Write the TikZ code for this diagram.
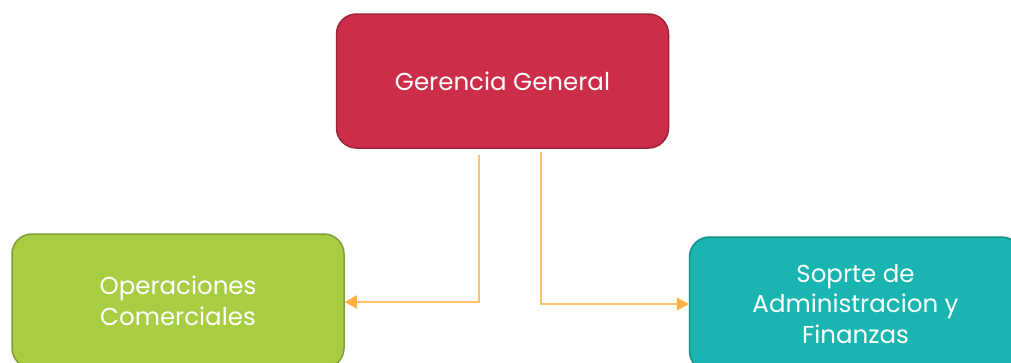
\documentclass[tikz,border=0pt]{standalone}
\usepackage{fontspec}
\setmainfont{Poppins}
\usetikzlibrary{arrows.meta}
\definecolor{redfill}{HTML}{CC2E4A}
\definecolor{reddraw}{HTML}{A02238}
\definecolor{greenfill}{HTML}{A8CD42}
\definecolor{greendraw}{HTML}{7E9E30}
\definecolor{tealfill}{HTML}{1AB5B0}
\definecolor{tealdraw}{HTML}{158F8B}
\definecolor{linecol}{HTML}{FFC46E}
\definecolor{tipcol}{HTML}{FFB040}
\tikzset{
  orgbox/.style={rounded corners=20pt, line width=1.5pt, minimum width=332pt, minimum height=134pt,
    text=white, align=center, font=\fontsize{24.5}{30.5}\selectfont},
  conn/.style={draw=linecol, line width=1.6pt, -{Triangle[length=12pt,width=13pt,fill=tipcol,color=tipcol]}}
}
\begin{document}
\begin{tikzpicture}[x=1pt,y=-1pt]
\useasboundingbox (0,0) rectangle (1011,362);
\clip (0,0) rectangle (1011,362);
\node[orgbox, fill=redfill, draw=reddraw] (gg) at (502.5,81) {Gerencia General};
\node[orgbox, fill=greenfill, draw=greendraw] (oc) at (178,301) {Operaciones\\Comerciales};
\node[orgbox, fill=tealfill, draw=tealdraw] (sa) at (855.5,304) {Soprte de\\Administracion y\\Finanzas};
\coordinate (c1) at (479,155);
\coordinate (c2) at (541,152);
\draw[conn] (c1) |- ([yshift=-1pt]oc.east);
\draw[conn] (c2) |- (sa.west);
\end{tikzpicture}
\end{document}
